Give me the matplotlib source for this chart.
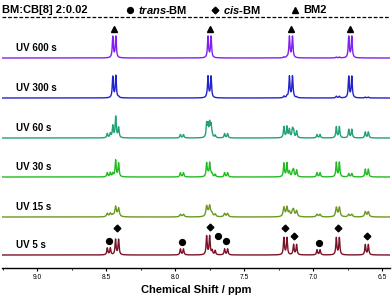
import numpy as np
import matplotlib
matplotlib.use('Agg')
import matplotlib.pyplot as plt
import matplotlib.ticker as ticker

plt.rcParams['font.family'] = ['Liberation Sans', 'DejaVu Sans']
plt.rcParams['mathtext.fontset'] = 'custom'
plt.rcParams['mathtext.bfit'] = 'Liberation Sans:italic:bold'
plt.rcParams['mathtext.bf'] = 'Liberation Sans:bold'
plt.rcParams['mathtext.rm'] = 'Liberation Sans:bold'

# spectra, bottom to top
labels = ['UV 5 s', 'UV 15 s', 'UV 30 s', 'UV 60 s', 'UV 300 s', 'UV 600 s']
colors = ['#7a1228', '#6a9a22', '#22bb22', '#22a07a', '#2222cc', '#8020f0']

# peak positions (ppm) and peak heights for each spectrum
peak_ppm = [8.48, 8.44, 8.42, 7.95, 7.76, 7.75, 7.72, 7.63,
            7.20, 7.16, 7.13, 6.96, 6.82, 6.73, 6.61]
heights = {
    'UV 5 s':   [8, 0, 18, 7, 22, 0, 5, 7, 20, 0, 12, 6, 20, 0, 12],
    'UV 15 s':  [4, 2, 10, 3, 12, 2, 3, 4, 11, 5, 7, 3, 11, 3, 6],
    'UV 30 s':  [5, 4, 16, 5, 16, 3, 3, 5, 16, 6, 8, 5, 17, 4, 9],
    'UV 60 s':  [5, 14, 12, 4, 16, 14, 3, 5, 13, 10, 8, 4, 13, 10, 7],
    'UV 300 s': [0, 25, 1, 0, 1, 25, 0, 0, 2, 25, 1, 0, 2, 25, 1],
    'UV 600 s': [0, 25, 0, 0, 0, 25, 0, 0, 1, 25, 0, 0, 1, 25, 0],
}
widths = [0.0045, 0.0065, 0.0045, 0.0045, 0.0045, 0.0045]

# assignments
trans_ppm = [8.48, 7.95, 7.69, 7.63, 6.96]
trans_y = [14, 13, 19, 14, 12]
cis_ppm = [8.42, 7.75, 7.20, 7.14, 6.82, 6.61]
cis_y = [27, 28, 27, 19, 27, 19]
bm2_ppm = [8.44, 7.75, 7.16, 6.73]
bm2_y = [29, 29, 29, 29]

xticks = [9.0, 8.5, 8.0, 7.5, 7.0, 6.5]

fig = plt.figure(figsize=(3.92, 2.97), dpi=100)
ax = fig.add_axes([2/392, 29/297, 388/392, 268/297])

ppm = np.linspace(9.3, 6.4, 5000)
J = 0.022
base = [13, 51, 91, 130, 170, 210]

def doublet(c, h, w):
    y = np.zeros_like(ppm)
    for d in (-J/2, J/2):
        y += h * w**2 / ((ppm - c - d)**2 + w**2)
    return y

for i, lab in enumerate(labels):
    spec = np.zeros_like(ppm)
    for c, h in zip(peak_ppm, heights[lab]):
        if h > 0:
            spec += doublet(c, h * 0.85, widths[i])
    ax.plot(ppm, spec + base[i], color=colors[i], lw=1.0)
    ax.text(0.035, base[i] + 10, lab, transform=ax.get_yaxis_transform(),
            fontsize=7, fontweight='bold', va='center')

ax.plot(trans_ppm, np.array(trans_y) + base[0], 'o', color='black', ms=4.2)
ax.plot(cis_ppm, np.array(cis_y) + base[0], 'D', color='black', ms=3.4)
ax.plot(bm2_ppm, np.array(bm2_y) + base[5], '^', color='black', ms=4.2)

# header
ax.axhline(251, color='black', lw=0.9, dashes=(3, 1.5))
trans_ax = ax.get_yaxis_transform()
hy = 258
ax.text(0.0, hy, 'BM:CB[8] 2:0.02', transform=trans_ax,
        fontsize=8, fontweight='bold', va='center')
for xp, mk, ms, txt in [(130, 'o', 4.2, r'$\mathbfit{trans}$-BM'),
                        (215, 'D', 3.4, r'$\mathbfit{cis}$-BM'),
                        (295, '^', 4.2, 'BM2')]:
    xa = (xp - 2) / 388
    ax.plot([xa], [hy], mk, color='black', ms=ms, transform=trans_ax, clip_on=False)
    ax.text(xa + 8/388, hy, txt, transform=trans_ax,
            fontsize=8, fontweight='bold', va='center')

ax.set_xlim(9.254, 6.442)
ax.set_ylim(0, 268)
for s in ['top', 'left', 'right']:
    ax.spines[s].set_visible(False)
ax.spines['bottom'].set_linewidth(1.0)
ax.set_yticks([])
ax.set_xticks(xticks)
ax.set_xticklabels(['{:.1f}'.format(v) for v in xticks])
ax.xaxis.set_minor_locator(ticker.MultipleLocator(0.25))
ax.tick_params(axis='x', which='major', length=2.5, width=0.8, labelsize=4.8, pad=2)
ax.tick_params(axis='x', which='minor', length=1.5, width=0.6)
ax.set_xlabel('Chemical Shift / ppm', fontsize=8, fontweight='bold', labelpad=3)

fig.savefig('out.png', dpi=100)
